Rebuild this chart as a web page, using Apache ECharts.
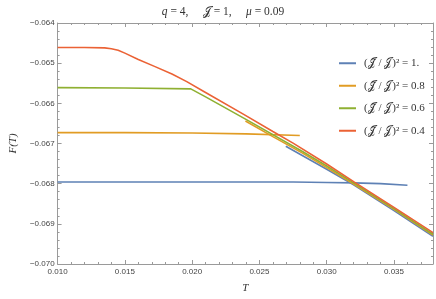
<!DOCTYPE html>
<html><head><meta charset="utf-8">
<script src="https://cdn.jsdelivr.net/npm/echarts@6/dist/echarts.min.js"></script>
<style>html,body{margin:0;padding:0;background:#fff}#c{width:436px;height:299px}</style>
</head><body><div id="c"></div>
<script>
// Data
const xTicks = [0.010, 0.015, 0.020, 0.025, 0.030, 0.035];
const yTicks = [-0.070, -0.069, -0.068, -0.067, -0.066, -0.065, -0.064];
const seriesNames = ['1.', '0.8', '0.6', '0.4'];

const T_blue_flat = [0.010, 0.015, 0.020, 0.025, 0.0275, 0.030, 0.032, 0.034, 0.036];
const F_blue_flat = [-0.06796, -0.06796, -0.06796, -0.06796, -0.06796, -0.06797, -0.06798, -0.06800, -0.06804];
const T_blue_slope = [0.02696, 0.0300, 0.0320, 0.0350, 0.0379];
const F_blue_slope = [-0.06707, -0.06764, -0.06803, -0.06867, -0.06931];

const T_orange_flat = [0.010, 0.015, 0.020, 0.024, 0.028];
const F_orange_flat = [-0.06673, -0.06673, -0.06674, -0.06676, -0.06680];
const T_orange_slope = [0.02396, 0.0260, 0.0282, 0.0300, 0.0320, 0.0350, 0.0379];
const F_orange_slope = [-0.06644, -0.06683, -0.06724, -0.06760, -0.06801, -0.06864, -0.06928];

const T_green = [0.010, 0.015, 0.0199, 0.021, 0.024, 0.0282, 0.030, 0.032, 0.035, 0.0379];
const F_green = [-0.06561, -0.06562, -0.06564, -0.06584, -0.06640, -0.06720, -0.06756, -0.06798, -0.06862, -0.06926];

const T_red = [0.010, 0.012, 0.0135, 0.0140, 0.0145, 0.0150, 0.0160, 0.0172, 0.0185, 0.0196, 0.0209, 0.0238, 0.0260, 0.0275, 0.0300, 0.0320, 0.0350, 0.0379];
const F_red = [-0.06461, -0.06461, -0.06462, -0.06464, -0.06468, -0.06475, -0.06491, -0.06508, -0.06527, -0.06546, -0.06571, -0.06627, -0.06670, -0.06699, -0.06751, -0.06795, -0.06859, -0.06922];

const colors = ['#5E81B5', '#E19C24', '#8FB032', '#EB6235'];
const zip = (a, b) => a.map((v, i) => [v, b[i]]);
const SJ = '𝒥';
const legendName = v => '(' + SJ + '̃/' + SJ + ')² = ' + v;

const mk = (name, T, F, color, z) => ({
  name: legendName(name), type: 'line', data: zip(T, F), symbol: 'none',
  lineStyle: { color: color, width: 1.6 }, itemStyle: { color: color },
  animation: false, z: z
});

const chart = echarts.init(document.getElementById('c'), null, { renderer: 'canvas' });
const xmin = 0.010, xmax = 0.0379, ymin = -0.070, ymax = -0.064;
const frameColor = '#9a9a9a';
const isTick = (v, arr) => arr.some(t => Math.abs(t - v) < 1e-9);
const serif = 'Liberation Serif';
const baseAxis = {
  axisLine: { show: true, lineStyle: { color: frameColor, width: 1 } },
  axisTick: { show: true, inside: true, length: 4, lineStyle: { color: frameColor } },
  minorTick: { show: true, splitNumber: 5, length: 2, lineStyle: { color: frameColor } },
  splitLine: { show: false }
};
chart.setOption({
  animation: false,
  title: {
    text: '{i|q} = 4,     ' + SJ + ' = 1,     {i|μ} = 0.09',
    left: 218, textAlign: 'center', top: 1,
    textStyle: { fontFamily: serif, fontSize: 11.5, fontWeight: 'normal', color: '#333',
      rich: { i: { fontStyle: 'italic', fontFamily: serif, fontSize: 11.5, color: '#333' } } }
  },
  grid: { left: 47, right: 1, top: 23, bottom: 34 },
  legend: {
    orient: 'vertical', left: 334, top: 51,
    itemWidth: 17, itemHeight: 2, itemGap: 8, icon: 'rect',
    data: seriesNames.map(legendName),
    formatter: n => '(' + SJ + '̃ / ' + SJ + ')² = ' + n.split('= ')[1],
    textStyle: { fontFamily: serif, fontSize: 11, color: '#333', lineHeight: 14.5, padding: [0, 0, 0, 3] }
  },
  xAxis: [
    Object.assign({}, baseAxis, {
      type: 'value', min: xmin, max: xmax, interval: 0.005, position: 'bottom',
      axisLabel: { fontSize: 8, color: '#444', margin: 4, fontFamily: 'Liberation Sans',
        formatter: v => isTick(v, xTicks) ? v.toFixed(3) : '' },
      name: 'T', nameLocation: 'middle', nameGap: 19,
      nameTextStyle: { fontFamily: serif, fontStyle: 'italic', fontSize: 11, color: '#333' }
    }),
    Object.assign({}, baseAxis, {
      type: 'value', min: xmin, max: xmax, interval: 0.005, position: 'top',
      axisLabel: { show: false }
    })
  ],
  yAxis: [
    Object.assign({}, baseAxis, {
      type: 'value', min: ymin, max: ymax, interval: 0.001, position: 'left',
      axisLabel: { fontSize: 8, color: '#444', margin: 3, fontFamily: 'Liberation Sans',
        formatter: v => isTick(v, yTicks) ? '−' + Math.abs(v).toFixed(3) : '' },
      name: 'F(T)', nameLocation: 'middle', nameGap: 36, nameRotate: 90,
      nameTextStyle: { fontFamily: serif, fontStyle: 'italic', fontSize: 11, color: '#333' }
    }),
    Object.assign({}, baseAxis, {
      type: 'value', min: ymin, max: ymax, interval: 0.001, position: 'right',
      axisLabel: { show: false }
    })
  ],
  series: [
    mk(seriesNames[0], T_blue_flat, F_blue_flat, colors[0], 2),
    mk(seriesNames[0], T_blue_slope, F_blue_slope, colors[0], 2),
    mk(seriesNames[1], T_orange_flat, F_orange_flat, colors[1], 3),
    mk(seriesNames[1], T_orange_slope, F_orange_slope, colors[1], 3),
    mk(seriesNames[2], T_green, F_green, colors[2], 4),
    mk(seriesNames[3], T_red, F_red, colors[3], 5)
  ]
});
</script></body></html>
